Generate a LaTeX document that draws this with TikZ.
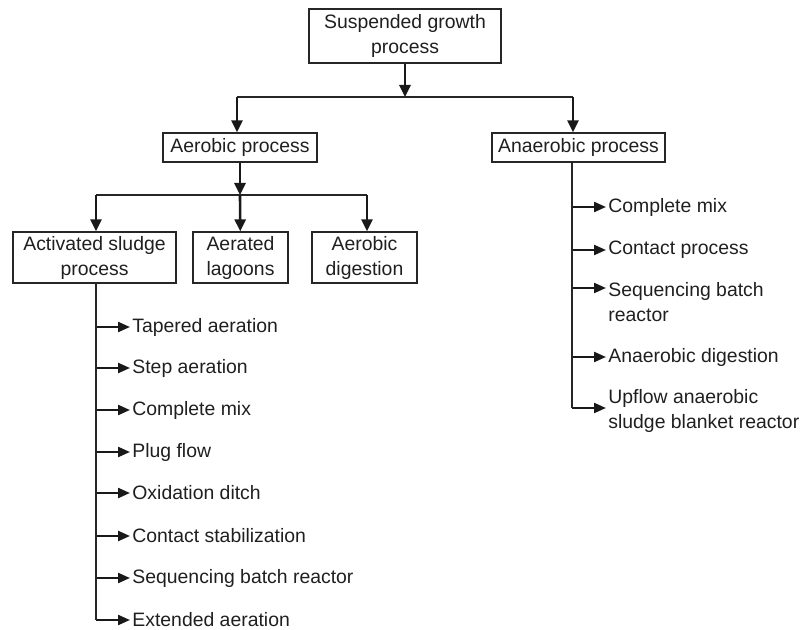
\documentclass[tikz,border=0pt]{standalone}
\usepackage{fontspec}
\setmainfont{Liberation Sans}
\usepackage{xcolor}
\usetikzlibrary{arrows.meta}

\tikzset{
	box/.style={draw=black!85, line width=0.6pt, align=center, inner sep=0pt, text=black!88, font=\fontsize{9.7}{12.5}\selectfont},
	item/.style={anchor=west, align=left, inner sep=1pt, text=black!88, font=\fontsize{9.7}{12.5}\selectfont},
	down/.style={draw=black!90, line width=1.3pt, -{Triangle[length=6pt, width=5.5pt]}},
	side/.style={draw=black!90, line width=1.1pt, -{Triangle[length=6pt, width=5pt]}},
	feed/.style={draw=black!85, line width=0.6pt},
}

\begin{document}
\begin{tikzpicture}[x=0.5pt, y=-0.5pt]
	\useasboundingbox (0,0) rectangle (803,630);

	% boxes
	\node[box, minimum width=96pt, minimum height=27pt] (susp) at (405,36) {Suspended growth\\process};
	\node[box, minimum width=77pt, minimum height=14.5pt] (aero) at (240,147.5) {Aerobic process};
	\node[box, minimum width=86.5pt, minimum height=14.5pt] (anae) at (578.5,147.5) {Anaerobic process};
	\node[box, minimum width=81.5pt, minimum height=25.5pt] (actv) at (94.5,257.5) {Activated sludge\\process};
	\node[box, minimum width=47.5pt, minimum height=25.5pt] (lagn) at (240.5,257.5) {Aerated\\lagoons};
	\node[box, minimum width=52.5pt, minimum height=25.5pt] (dige) at (364.5,257.5) {Aerobic\\digestion};

	% first split
	\coordinate (j1) at (405,97);
	\coordinate (j1l) at (237,97);
	\coordinate (j1r) at (573,97);
	\draw[down] (susp) -- (j1);
	\draw[feed] (j1l) -- (j1r);
	\draw[down] (j1l) -- (j1l |- aero.north);
	\draw[down] (j1r) -- (j1r |- anae.north);

	% aerobic split
	\coordinate (j2) at (240,195);
	\coordinate (j2l) at (96,195);
	\coordinate (j2r) at (367,195);
	\draw[down] (aero) -- (j2);
	\draw[feed] (j2l) -- (j2r);
	\draw[down] (j2l) -- (j2l |- actv.north);
	\draw[down] (j2) -- (lagn);
	\draw[down] (j2r) -- (j2r |- dige.north);

	% activated sludge list
	\foreach \i/\y/\txt in {1/327/Tapered aeration, 2/368/Step aeration, 3/410/Complete mix, 4/452/Plug flow, 5/493/Oxidation ditch, 6/536/Contact stabilization, 7/578/Sequencing batch reactor, 8/620/Extended aeration} {
		\coordinate (ls\i) at (96,\y);
		\node[item] (l\i) at (130,\y) {\txt};
		\draw[side] (ls\i) -- (l\i);
	}
	\draw[feed] (actv.south -| ls8) -- (ls8);

	% anaerobic list
	\foreach \i/\y/\ty/\txt in {1/207/207/Complete mix, 2/250/250/Contact process, 3/288/302/Sequencing batch\\reactor, 4/357/357/Anaerobic digestion, 5/408/411/Upflow anaerobic\\sludge blanket reactor} {
		\coordinate (rs\i) at (572,\y);
		\node[item] (r\i) at (606,\ty) {\txt};
		\draw[side] (rs\i) -- (rs\i -| r\i.west);
	}
	\draw[feed] (anae.south -| rs5) -- (rs5);
\end{tikzpicture}
\end{document}
